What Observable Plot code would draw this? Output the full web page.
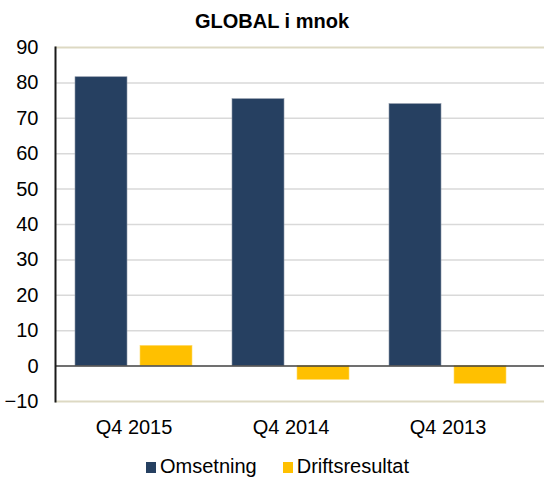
<!DOCTYPE html>
<html>
<head>
<meta charset="utf-8">
<script src="https://cdn.jsdelivr.net/npm/d3@7"></script>
<script src="https://cdn.jsdelivr.net/npm/@observablehq/plot@0.6"></script>
<style>
  body { margin: 0; background: #fff; font-family: "Liberation Sans", Arial, sans-serif; }
  #wrap { position: relative; width: 544px; height: 477px; overflow: hidden; }
  #title { position: absolute; top: 6px; left: 0; width: 544px; line-height: 30px; text-align: center; font-weight: bold; font-size: 20px; color: #000; }
  #chart { position: absolute; top: 30px; left: 0; }
  #legend { position: absolute; top: 455px; left: 146px; font-size: 20px; line-height: 22px; color: #000; white-space: nowrap; }
  .item { display: inline-block; margin-right: 26px; }
  .sw { display: inline-block; width: 10px; height: 11px; margin-right: 4px; vertical-align: 0; }
</style>
</head>
<body>
<div id="wrap">
  <div id="title">GLOBAL i mnok</div>
  <div id="chart"></div>
  <div id="legend"></div>
</div>
<script>
const categories = ["Q4 2015", "Q4 2014", "Q4 2013"];
const seriesNames = ["Omsetning", "Driftsresultat"];
const omsetning = [81.6, 75.4, 74.0];
const driftsresultat = [5.7, -3.9, -5.0];
const yTicks = [-10, 0, 10, 20, 30, 40, 50, 60, 70, 80, 90];
const colors = ["#264061", "#FFC000"];

const rowsOms = categories.map((c, i) => ({category: c, series: seriesNames[0], value: omsetning[i]}));
const rowsDri = categories.map((c, i) => ({category: c, series: seriesNames[1], value: driftsresultat[i]}));

const plot = Plot.plot({
  width: 544,
  height: 420,
  marginTop: 17,
  marginBottom: 49,
  marginLeft: 55,
  marginRight: 0,
  style: {fontFamily: "'Liberation Sans', Arial, sans-serif", fontSize: "20px", color: "#000", background: "transparent"},
  x: {domain: categories, range: [55, 526], padding: 0, label: null},
  y: {domain: [-10, 90], label: null},
  color: {domain: seriesNames, range: colors},
  marks: [
    Plot.ruleY(yTicks.filter(d => d !== 0 && d !== -10 && d !== 90), {stroke: "#d9d9d9", strokeWidth: 1.5}),
    Plot.ruleY([90, -10], {stroke: "#ddd9c3", strokeWidth: 2}),
    Plot.barY(rowsOms, {x: "category", y: "value", fill: "series", insetLeft: 20, insetRight: 85, stroke: "#8a95a5", strokeWidth: 0.6}),
    Plot.barY(rowsDri, {x: "category", y: "value", fill: "series", insetLeft: 85, insetRight: 20, stroke: "#ffd966", strokeWidth: 0.6}),
    Plot.ruleY([0], {stroke: "#404040", strokeWidth: 1.5}),
    Plot.frame({anchor: "left", stroke: "#1a1a1a", strokeWidth: 2}),
    Plot.axisY({ticks: yTicks, tickSize: 0, tickPadding: 17, fontSize: 20, label: null}),
    Plot.axisX({tickSize: 0, tickPadding: 18, fontSize: 20, label: null})
  ]
});
document.getElementById("chart").appendChild(plot);

const legend = document.getElementById("legend");
seriesNames.forEach((s, i) => {
  const item = document.createElement("span");
  item.className = "item";
  const sw = document.createElement("span");
  sw.className = "sw";
  sw.style.background = colors[i];
  item.appendChild(sw);
  item.appendChild(document.createTextNode(s));
  legend.appendChild(item);
});
</script>
</body>
</html>
